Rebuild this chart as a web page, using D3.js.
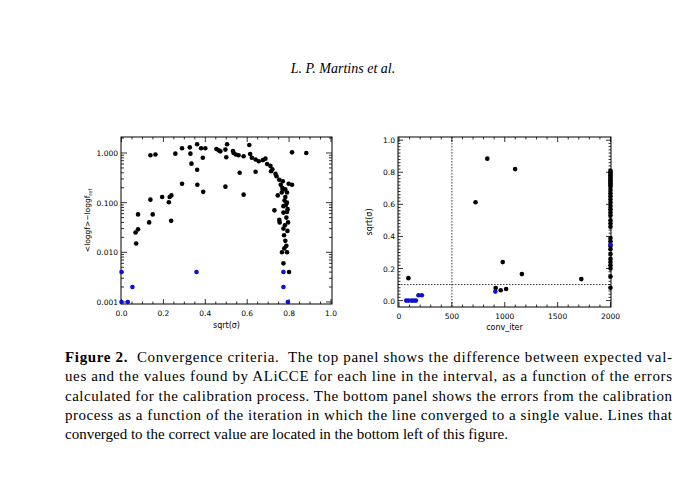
<!DOCTYPE html>
<html><head><meta charset="utf-8"><script src="https://cdn.jsdelivr.net/npm/d3@7"></script>
<style>body{margin:0;background:#fff}</style></head><body><svg id="c" width="686" height="480"></svg>
<script>
const topBlack=[[.138,.9],[.162,.93],[.257,.97],[.289,1.25],[.326,1.3],[.329,.97],[.334,.61],[.361,1.5],[.38,1.25],[.388,.8],[.4,1.25],[.453,1.2],[.464,1.13],[.472,1.08],[.496,1.17],[.504,1.5],[.5,.82],[.532,1.1],[.535,1.0],[.546,.93],[.559,.9],[.583,.86],[.61,1.45],[.614,.95],[.622,.8],[.64,.74],[.655,.68],[.675,.72],[.687,.77],[.695,.6],[.711,.55],[.72,.47],[.714,.43],[.735,.38],[.74,.34],[.753,.29],[.76,.23],[.77,.185],[.782,.185],[.79,.16],[.782,.13],[.79,.1],[.773,.085],[.793,.074],[.773,.063],[.787,.05],[.795,.04],[.755,.04],[.773,.03],[.776,.022],[.782,.017],[.787,.0135],[.766,.01],[.79,.01],[.773,.006],[.8,.004],[.814,1.03],[.882,1.0],[.814,.23],[.798,.24],[.753,.045],[.73,.07],[.746,.14],[.138,.115],[.149,.058],[.079,.058],[.079,.029],[.067,.025],[.07,.015],[.132,.04],[.194,.13],[.226,.102],[.23,.13],[.238,.14],[.237,.043],[.289,.24],[.362,.23],[.361,.46],[.39,.165],[.496,.21],[.564,.4],[.583,.145],[.64,.42],[.778,.11],[.785,.09],[.768,.2],[.79,.065],[.78,.035],[.77,.27],[.765,.16],[.792,.027],[.777,.012]];
const topBlue=[[0,.004],[0,.001],[.03,.001],[.052,.002],[.358,.004],[.773,.004],[.773,.002],[.794,.001]];
const botBlack=[[89,.14],[724,.613],[835,.885],[1098,.82],[981,.24],[1162,.165],[914,.078],[962,.064],[1013,.072],[1724,.134]];
const colVals=[.08,.15,.2,.22,.24,.26,.29,.32,.34,.37,.39,.46,.48,.5,.53,.55,.57,.59,.61,.63,.65,.67,.69,.71,.72,.73,.74,.75,.76,.77,.78,.79,.8,.81];
const botBlue=[[68,0],[90,0],[117,0],[140,0],[160,0],[184,.033],[216,.033],[911,.056],[2000,.35]];
const topTicks=[0.001,0.010,0.100,1.000];
const captionLines=["Figure 2.  Convergence criteria.  The top panel shows the difference between expected val-","ues and the values found by ALiCCE for each line in the interval, as a function of the errors","calculated for the calibration process. The bottom panel shows the errors from the calibration","process as a function of the iteration in which the line converged to a single value. Lines that","converged to the correct value are located in the bottom left of this figure."];
const svg=d3.select("#c");
svg.append("text").attr("x",343).attr("y",73).attr("text-anchor","middle").attr("font-family","Liberation Serif").attr("font-style","italic").attr("font-size",14).text("L. P. Martins et al.");
const f="DejaVu Sans";
const L={x0:121,x1:332,y0:137,y1:304};
const xL=d3.scaleLinear([0,1],[L.x0+0.5,L.x1-1]);
const yL=d3.scaleLog([0.00091,2.1],[L.y1,L.y0]);
const R={x0:398,x1:611,y0:137,y1:307};
const xR=d3.scaleLinear([0,2000],[399,610.5]);
const yR=d3.scaleLinear([-0.04,1.02],[R.y1,R.y0]);
function frame(B){svg.append("rect").attr("x",B.x0).attr("y",B.y0).attr("width",B.x1-B.x0).attr("height",B.y1-B.y0).attr("fill","none").attr("stroke","#000").attr("stroke-width",1);}
function tk(x1,y1,x2,y2){svg.append("line").attr("x1",x1).attr("y1",y1).attr("x2",x2).attr("y2",y2).attr("stroke","#000").attr("stroke-width",0.8);}
function txt(x,y,s,a,sz){return svg.append("text").attr("x",x).attr("y",y).attr("text-anchor",a||"middle").attr("font-family",f).attr("font-size",sz||7.5).text(s);}
frame(L);frame(R);
for(let v=0;v<=1.0001;v+=0.05){const x=xL(v);const big=Math.abs(v*5-Math.round(v*5))<1e-6;const l=big?5:2.5;tk(x,L.y1,x,L.y1-l);tk(x,L.y0,x,L.y0+l);if(big)txt(x,L.y1+12,v.toFixed(1));}
topTicks.forEach(v=>{const y=yL(v);tk(L.x0,y,L.x0+6,y);tk(L.x1,y,L.x1-6,y);txt(L.x0-3,y+3,v.toFixed(3),"end");});
[0.001,0.01,0.1,1].forEach(d=>{for(let k=2;k<10;k++){const v=d*k;if(v>2.1)break;const y=yL(v);tk(L.x0,y,L.x0+3,y);tk(L.x1,y,L.x1-3,y);}});
txt((L.x0+L.x1)/2,L.y1+24,"sqrt(σ)","middle",8);
svg.append("text").attr("transform",`translate(90,${(L.y0+L.y1)/2}) rotate(-90)`).attr("text-anchor","middle").attr("font-family",f).attr("font-size",7.5).html('&lt;loggf&gt;−loggf<tspan font-size="5" dy="2">ref</tspan>');
for(let v=0;v<=2000;v+=100){const x=xR(v);const big=v%500===0;const l=big?5:2.5;tk(x,R.y1,x,R.y1-l);tk(x,R.y0,x,R.y0+l);if(big)txt(x,R.y1+12,String(v));}
for(let i=0;i<=50;i++){const v=i/50;const y=yR(v);const big=i%10===0;const l=big?5:2.5;tk(R.x0,y,R.x0+l,y);tk(R.x1,y,R.x1-l,y);if(big)txt(R.x0-3,y+3,v.toFixed(1),"end");}
txt((R.x0+R.x1)/2,R.y1+23,"conv_iter","middle",8);
svg.append("text").attr("transform",`translate(372,${(R.y0+R.y1)/2}) rotate(-90)`).attr("text-anchor","middle").attr("font-family",f).attr("font-size",8).text("sqrt(σ)");
svg.append("line").attr("x1",xR(500)).attr("x2",xR(500)).attr("y1",R.y0).attr("y2",R.y1).attr("stroke","#000").attr("stroke-dasharray","1.5,1.5").attr("stroke-width",0.8);
svg.append("line").attr("x1",R.x0).attr("x2",R.x1).attr("y1",yR(0.1)).attr("y2",yR(0.1)).attr("stroke","#000").attr("stroke-dasharray","1.5,1.5").attr("stroke-width",0.8);
function dots(data,xs,ys,c){svg.append("g").selectAll("circle").data(data).join("circle").attr("cx",d=>xs(d[0])).attr("cy",d=>ys(d[1])).attr("r",2.3).attr("fill",c);}
dots(topBlack,xL,yL,"#000");dots(topBlue,xL,yL,"#1010d0");
dots(botBlack.concat(colVals.map(v=>[2000,v])),xR,yR,"#000");dots(botBlue,xR,yR,"#1010d0");
captionLines.forEach((s,i)=>{const t=svg.append("text").attr("x",65).attr("y",362+i*19.3).attr("font-family","Liberation Serif").attr("font-size",15).attr("xml:space","preserve");
 if(i===0){t.append("tspan").attr("font-weight","bold").text("Figure 2.");t.append("tspan").text(s.slice(9));}else t.text(s);
 if(i<4)t.attr("textLength",607).attr("lengthAdjust","spacing");});
</script></body></html>
